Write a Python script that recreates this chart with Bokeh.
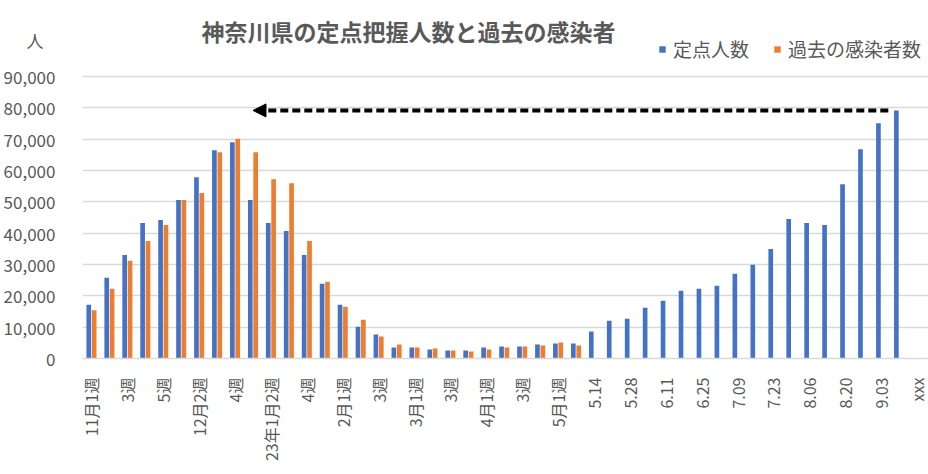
import math
from bokeh.plotting import figure
from bokeh.models import (ColumnDataSource, FixedTicker, NumeralTickFormatter, Range1d,
                          Legend, LegendItem, Label, Arrow, NormalHead)
from bokeh.embed import file_html
from bokeh.resources import INLINE

categories = ["11月1週", "2週", "3週", "4週", "5週", "12月1週", "12月2週", "3週", "4週", "5週",
              "23年1月2週", "3週", "4週", "5週", "2月1週", "2週", "3週", "4週",
              "3月1週", "2週", "3週", "4週", "4月1週", "2週", "3週", "4週", "5月1週", "2週",
              "5.14", "5.21", "5.28", "6.04", "6.11", "6.18", "6.25", "7.02", "7.09", "7.16",
              "7.23", "7.30", "8.06", "8.13", "8.20", "8.27", "9.03", "9.10", "xxx"]

teiten = [17170, 25750, 33070, 43240, 44200, 50560, 57870, 66450, 69000, 50560,
          43240, 40700, 33070, 23850, 17170, 10170, 7630, 3500, 3500, 2860,
          2540, 2540, 3500, 3820, 3820, 4450, 4770, 4770, 8590, 12080,
          12720, 16220, 18440, 21620, 22260, 23210, 27030, 29890, 34980, 44520,
          43240, 42610, 55640, 66770, 75040, 79170]

kako = [15360, 22250, 31160, 37520, 42610, 50560, 52780, 65820, 70150, 65820,
        57230, 55960, 37520, 24480, 16530, 12400, 7000, 4450, 3500, 3180,
        2540, 2230, 2860, 3500, 3820, 4130, 5090, 4130]

title_text = "神奈川県の定点把握人数と過去の感染者"
series_names = ["定点人数", "過去の感染者数"]
unit_text = "人"
y_ticks = list(range(0, 90001, 10000))

BLUE = "#4472C4"
ORANGE = "#ED7D31"
GRAY = "#595959"
GRID = "#D9D9D9"
FONT = "Noto Sans CJK JP"

W, H = 928, 474
FRAME_BOTTOM = 358      # pixel row of the 0 line
TOP_TICK_ROW = 76       # pixel row of the 90,000 line
UNIT_ROW = 40           # pixel row of the unit label

y_max = 90000 * FRAME_BOTTOM / (FRAME_BOTTOM - TOP_TICK_ROW)
unit_tick = int(round(90000 * (FRAME_BOTTOM - UNIT_ROW) / (FRAME_BOTTOM - TOP_TICK_ROW), -2))

src_b = ColumnDataSource(dict(x=[i - 0.15 for i in range(len(teiten))], top=teiten))
src_o = ColumnDataSource(dict(x=[i + 0.15 for i in range(len(kako))], top=kako))

p = figure(width=W, height=H, output_backend="svg", toolbar_location=None,
           x_range=Range1d(-0.5, 46.64), y_range=Range1d(0, y_max),
           min_border_left=80, min_border_right=0, min_border_top=0,
           min_border_bottom=H - FRAME_BOTTOM)

rb = p.vbar(x="x", top="top", width=0.26, source=src_b, fill_color=BLUE, line_color=None)
ro = p.vbar(x="x", top="top", width=0.26, source=src_o, fill_color=ORANGE, line_color=None)

p.outline_line_color = None
p.xgrid.grid_line_color = None
p.ygrid.ticker = FixedTicker(ticks=y_ticks)
p.ygrid.grid_line_color = GRID
p.ygrid.grid_line_width = 1.5

p.yaxis.ticker = FixedTicker(ticks=y_ticks + [unit_tick])
p.yaxis.formatter = NumeralTickFormatter(format="0,0")
p.yaxis.major_label_overrides = {unit_tick: unit_text + "\u2002\u2009"}
p.yaxis.axis_line_color = None
p.yaxis.major_tick_line_color = None
p.yaxis.minor_tick_line_color = None
p.yaxis.major_label_standoff = 21
p.yaxis.major_label_text_font = FONT
p.yaxis.major_label_text_font_size = "17px"
p.yaxis.major_label_text_color = GRAY

tick_pos = list(range(0, len(categories), 2))
p.xaxis.ticker = FixedTicker(ticks=tick_pos)
p.xaxis.major_label_overrides = {i: categories[i] for i in tick_pos}
p.xaxis.major_label_orientation = math.pi / 2
p.xaxis.axis_line_color = GRID
p.xaxis.axis_line_width = 1.5
p.xaxis.major_tick_line_color = None
p.xaxis.minor_tick_line_color = None
p.xaxis.major_label_standoff = 13
p.xaxis.major_label_text_font = FONT
p.xaxis.major_label_text_font_size = "16px"
p.xaxis.major_label_text_color = GRAY

# dashed arrow from the latest value back to the earlier peak
last_i = len(teiten) - 1
p.add_layout(Arrow(end=NormalHead(size=13, fill_color="black", line_color="black"),
                   x_start=last_i - 0.6, y_start=teiten[last_i],
                   x_end=9, y_end=teiten[last_i],
                   line_color="black", line_width=4, line_dash="8 4"))

p.add_layout(Label(x=326, y=FRAME_BOTTOM - 30, x_units="screen", y_units="screen",
                   text=title_text, text_font=FONT, text_font_size="23px",
                   text_font_style="bold", text_color=GRAY,
                   text_align="center", text_baseline="middle"))

legend = Legend(items=[LegendItem(label=series_names[0], renderers=[rb]),
                       LegendItem(label=series_names[1], renderers=[ro])],
                location=(576, FRAME_BOTTOM - 62), orientation="horizontal",
                glyph_width=8, glyph_height=8, label_standoff=7, spacing=24,
                padding=0, margin=0, border_line_color=None, background_fill_alpha=0,
                label_text_font=FONT, label_text_font_size="19px", label_text_color=GRAY)
p.add_layout(legend)

open("out.html", "w").write(file_html(p, INLINE))
